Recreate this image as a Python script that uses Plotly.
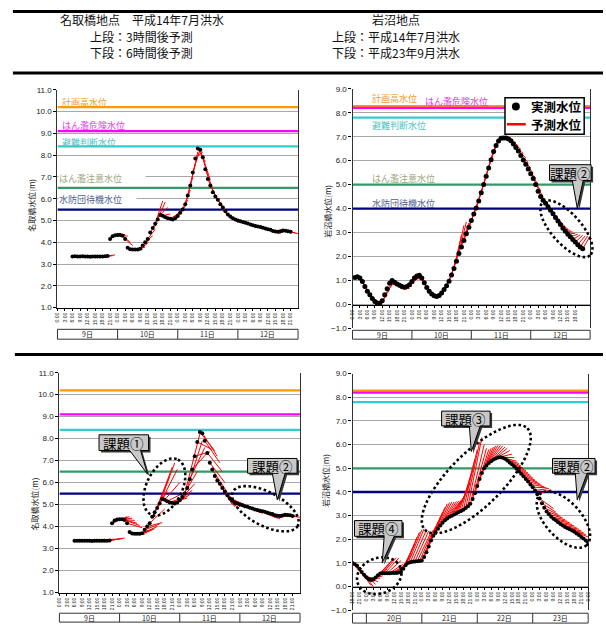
import numpy as np
import plotly.graph_objects as go

W, H = 606, 634

# ---------------- data ----------------
# 名取橋 平成14年7月洪水 : observed level (m), hourly, first value at 9日 6:00 (hour 6)
natori_obs_start = 6
natori_obs = [3.35, 3.36, 3.35, 3.35, 3.36, 3.35, 3.35, 3.34, 3.35, 3.35, 3.35, 3.35, 3.35, 3.36, 3.37,
              4.15, 4.28, 4.32, 4.33, 4.33, 4.30, 4.15, 3.75, 3.68, 3.67, 3.67, 3.67, 3.70, 3.85, 4.00,
              4.15, 4.45, 4.65, 4.85, 5.05, 5.25, 5.22, 5.15, 5.10, 5.08, 5.05, 5.10, 5.20, 5.35, 5.50,
              5.75, 6.15, 6.60, 7.20, 7.85, 8.30, 8.25, 7.90, 7.35, 6.90, 6.60, 6.30, 6.10, 5.95, 5.75,
              5.60, 5.42, 5.28, 5.18, 5.10, 5.05, 5.00, 4.97, 4.93, 4.90, 4.86, 4.82, 4.78, 4.75, 4.72,
              4.70, 4.67, 4.63, 4.60, 4.57, 4.52, 4.49, 4.48, 4.50, 4.54, 4.53, 4.51, 4.48]
# 3-hour-ahead forecasts, listed by target hour (first target = hour 9)
natori_pred3_start = 9
natori_pred3 = [3.37, 3.37, 3.38, 3.37, 3.36, 3.37, 3.37, 3.36, 3.37, 3.37, 3.38, 3.37, 3.37, 3.38,
                3.42, 4.40, 4.42, 4.38, 4.35, 4.28, 4.00, 3.85, 3.62, 3.62, 3.64, 3.68, 3.78, 3.95,
                4.15, 4.30, 4.60, 4.90, 5.30, 5.90, 5.85, 5.60, 5.30, 5.12, 5.05, 5.30, 5.45, 5.60,
                5.65, 5.95, 6.40, 7.00, 7.60, 8.15, 8.30, 8.15, 7.70, 7.05, 6.85, 6.45, 6.15, 5.95,
                5.82, 5.62, 5.45, 5.20, 5.08, 5.02, 4.98, 4.92, 4.90, 4.88, 4.85, 4.82, 4.78, 4.72,
                4.68, 4.68, 4.67, 4.63, 4.60, 4.55, 4.52, 4.50, 4.45, 4.42, 4.40, 4.45, 4.50, 4.52,
                4.50, 4.45, 4.42, 4.40]
# 6-hour-ahead forecasts, by target hour (first target = hour 12)
natori_pred6_start = 12
natori_pred6 = [3.40, 3.41, 3.40, 3.42, 3.41, 3.40, 3.42, 3.41, 3.40, 3.42, 3.43, 3.42, 3.44, 3.45,
                3.48, 4.45, 4.45, 4.38, 4.28, 4.15, 4.05, 3.95, 3.65, 3.72, 3.78, 3.85, 3.90, 4.00,
                4.12, 4.18, 4.80, 5.60, 6.30, 6.70, 6.90, 6.60, 6.00, 5.50, 5.35, 5.30, 5.45, 5.65,
                5.95, 6.50, 8.20, 7.90, 7.60, 7.35, 7.40, 7.50, 7.45, 7.20, 6.90, 6.50, 6.00, 5.55,
                5.20, 5.00, 4.90, 4.85, 4.90, 4.95, 5.00, 4.95, 4.85, 4.80, 4.75, 4.72, 4.65, 4.60,
                4.65, 4.60, 4.55, 4.50, 4.42, 4.38, 4.35, 4.40, 4.45, 4.48, 4.50, 4.52, 4.50, 4.45,
                4.42]

# 岩沼 平成14年7月洪水 : observed, hourly from hour 1
iwa02_obs_start = 1
iwa02_obs = [1.12, 1.15, 1.10, 0.95, 0.75, 0.55, 0.40, 0.25, 0.12, 0.05, 0.05, 0.15, 0.40, 0.65, 0.88,
             1.00, 0.92, 0.85, 0.80, 0.75, 0.72, 0.75, 0.82, 0.95, 1.10, 1.18, 1.22, 1.10, 0.90, 0.70,
             0.55, 0.43, 0.36, 0.33, 0.37, 0.48, 0.62, 0.78, 0.97, 1.23, 1.50, 1.80, 2.12, 2.40, 2.67,
             2.95, 3.22, 3.50, 3.77, 4.02, 4.32, 4.66, 5.00, 5.35, 5.69, 6.04, 6.38, 6.63, 6.82, 6.93,
             6.95, 6.95, 6.90, 6.83, 6.70, 6.55, 6.40, 6.22, 6.03, 5.85, 5.65, 5.45, 5.25, 5.00, 4.72,
             4.50, 4.35, 4.22, 4.08, 3.93, 3.78, 3.63, 3.48, 3.33, 3.18, 3.05, 2.93, 2.82, 2.71, 2.60,
             2.49, 2.40, 2.32]
iwa02_pred3_start = 4
iwa02_pred3 = [1.02, 0.82, 0.60, 0.42, 0.28, 0.17, 0.12, 0.10, 0.10, 0.18, 0.38, 0.62, 0.80, 0.90,
               0.80, 0.70, 0.64, 0.62, 0.62, 0.66, 0.76, 0.90, 1.05, 1.10, 1.05, 0.90, 0.72, 0.54,
               0.42, 0.34, 0.32, 0.36, 0.47, 0.60, 0.76, 0.96, 1.20, 1.50, 1.85, 2.30, 2.90, 3.30,
               3.45, 3.40, 3.50, 3.80, 4.05, 4.35, 4.70, 5.05, 5.40, 5.75, 6.10, 6.45, 6.70, 6.90,
               7.00, 7.02, 7.02, 7.00, 6.95, 6.85, 6.75, 6.62, 6.48, 6.30, 6.12, 5.92, 5.70, 5.48,
               5.25, 5.00, 4.75, 4.50, 4.30, 4.15, 4.00, 3.85, 3.70, 3.58, 3.45, 3.35, 3.25, 3.15,
               3.08, 3.02, 2.97, 2.93, 2.90, 2.88, 2.86, 2.85, 2.85]

# 岩沼 平成23年9月洪水 : observed, hourly from 19日 18:00 (hour -6 relative to 20日 0:00)
iwa11_obs_start = -6
iwa11_obs = [1.00, 0.95, 0.88, 0.75, 0.62, 0.50, 0.40, 0.32, 0.28, 0.30, 0.38, 0.48, 0.55, 0.57, 0.57,
             0.57, 0.57, 0.58, 0.58, 0.58, 0.60, 0.62, 0.75, 0.90, 1.00, 1.03, 1.05, 1.06, 1.07, 1.08,
             1.10, 1.25, 1.45, 1.70, 1.95, 2.15, 2.30, 2.45, 2.58, 2.70, 2.80, 2.88, 2.95, 3.00, 3.05,
             3.10, 3.15, 3.20, 3.25, 3.32, 3.40, 3.50, 3.70, 3.95, 4.25, 4.55, 4.80, 5.00, 5.12, 5.22,
             5.30, 5.37, 5.42, 5.46, 5.47, 5.45, 5.40, 5.33, 5.25, 5.17, 5.08, 4.98, 4.88, 4.77, 4.66,
             4.55, 4.44, 4.32, 4.20, 4.06, 3.90, 3.72, 3.52, 3.33, 3.18, 3.06, 2.95, 2.87, 2.80, 2.72,
             2.65, 2.58, 2.52, 2.47, 2.42, 2.37, 2.32, 2.25, 2.18, 2.10, 2.03, 1.95, 1.88]
iwa11_pred6_start = 0
iwa11_pred6 = [0.30, 0.20, 0.05, 0.00, 0.10, 0.20, 0.35, 0.45, 0.60, 0.75, 0.95, 1.10, 1.20, 1.22,
               1.20, 1.10, 0.95, 0.90, 1.00, 1.10, 1.40, 1.80, 2.10, 2.30, 2.40, 2.45, 2.40, 2.35,
               2.30, 2.40, 2.55, 2.75, 2.95, 3.15, 3.35, 3.50, 3.55, 3.58, 3.58, 3.60, 3.62, 3.65,
               3.75, 3.90, 4.10, 4.40, 4.90, 5.40, 5.80, 6.10, 6.30, 6.00, 5.85, 5.80, 5.85, 5.90,
               5.95, 5.97, 5.97, 5.95, 5.90, 5.85, 5.75, 5.60, 5.45, 5.30, 5.20, 5.10, 5.00, 4.90,
               4.80, 4.70, 4.60, 4.50, 4.42, 4.35, 4.28, 4.22, 4.18, 4.15, 4.10, 3.30, 3.15, 3.05,
               2.97, 2.90, 2.83, 2.76, 2.70, 2.63, 2.57, 2.50, 2.43, 2.36, 2.28, 2.20, 2.10]

level_names = ["計画高水位", "はん濫危険水位", "避難判断水位", "はん濫注意水位", "水防団待機水位"]
natori_levels = [10.2, 9.1, 8.4, 6.5, 5.5]
iwanuma_levels = [8.28, 8.2, 7.8, 5.0, 4.0]
level_colors = ["#FF9900", "#FF00FF", "#33CCCC", "#339966", "#000080"]
label_colors = ["#F39A2E", "#E636E6", "#4BBFBF", "#9DA67C", "#505E8E"]

days_2002 = ["9日", "10日", "11日", "12日"]
days_2011 = ["", "20日", "21日", "22日", "23日"]
hour_labels = ["0:00", "3:00", "6:00", "9:00", "12:00", "15:00", "18:00", "21:00"]

header_left = ["名取橋地点　平成14年7月洪水", "上段：3時間後予測", "下段：6時間後予測"]
header_right = ["岩沼地点", "上段：平成14年7月洪水", "下段：平成23年9月洪水"]
legend_names = ["実測水位", "予測水位"]

CJK = "Noto Sans CJK JP"
LAT = "Liberation Sans, Arial, sans-serif"


def PX(x):
    return x / W


def PY(y):
    return 1 - y / H


panels = [
    dict(k="", px=(55, 298), py=(87, 308), yr=[1, 11], xr=[0, 96], axis_py=None, box=(330, 340),
         days=days_2002, edges=[0, 24, 48, 72, 96], ticks=range(0, 94, 3),
         obs=(natori_obs_start, natori_obs), pred=(natori_pred3_start, natori_pred3, 3),
         levels=natori_levels, title="名取橋水位(m)", tpos=(28, 204), msize=4,
         labels=[(59, 100, None), (59, 123, None), (59, 140, None), (56, 177, 86), (56, 198, 77)]),
    dict(k="2", px=(353, 593), py=(86, 329), yr=[-1, 9], xr=[0, 96], axis_py=305, box=(331, 340),
         days=days_2002, edges=[0, 24, 48, 72, 96], ticks=range(0, 91, 3),
         obs=(iwa02_obs_start, iwa02_obs), pred=(iwa02_pred3_start, iwa02_pred3, 3),
         levels=iwanuma_levels, title="岩沼橋水位(m)", tpos=(327, 210), msize=5,
         labels=[(372, 96, None), (425, 99, None), (372, 123, None), (372, 177, None), (372, 202, None)]),
    dict(k="3", px=(57, 300), py=(374, 597), yr=[1, 11], xr=[0, 96], axis_py=None, box=(618, 627),
         days=days_2002, edges=[0, 24, 48, 72, 96], ticks=range(0, 94, 3),
         obs=(natori_obs_start, natori_obs), pred=(natori_pred6_start, natori_pred6, 6),
         levels=natori_levels, title="名取橋水位(m)", tpos=(32, 507), msize=4, labels=[]),
    dict(k="4", px=(353, 591), py=(375, 615), yr=[-1, 9], xr=[-6, 96], axis_py=591, box=(618, 628),
         days=days_2011, edges=[-6, 0, 24, 48, 72, 96], ticks=range(-6, 97, 3),
         obs=(iwa11_obs_start, iwa11_obs), pred=(iwa11_pred6_start, iwa11_pred6, 6),
         levels=iwanuma_levels, title="岩沼橋水位(m)", tpos=(325, 483), msize=4, labels=[]),
]

fig = go.Figure()
shapes = []
annos = []
layout_axes = {}


def txt_anno(x, y, text, size, color, family=CJK, xanchor="center", **kw):
    d = dict(x=x, y=y, xref="paper", yref="paper", text=text, showarrow=False,
             xanchor=xanchor, yanchor="middle", font=dict(size=size, family=family, color=color))
    d.update(kw)
    return d


for p in panels:
    xa, ya = "x" + p["k"], "y" + p["k"]
    # threshold lines
    for v, c in zip(p["levels"], level_colors):
        fig.add_trace(go.Scatter(x=p["xr"], y=[v, v], mode="lines", line=dict(color=c, width=2.3),
                                 xaxis=xa, yaxis=ya, hoverinfo="skip", showlegend=False))
    # forecasts: segment from observed value at issue time to forecast value at target time
    o0, obs = p["obs"]
    s0, pv, lead = p["pred"]
    obs_map = {o0 + i: v for i, v in enumerate(obs)}
    sx, sy = [], []
    for i, v in enumerate(pv):
        t_target = s0 + i
        t_issue = t_target - lead
        if t_issue in obs_map:
            sx += [t_issue, t_target, None]
            sy += [obs_map[t_issue], v, None]
    fig.add_trace(go.Scatter(x=sx, y=sy, mode="lines", line=dict(color="#FF0000", width=1.0),
                             xaxis=xa, yaxis=ya, name=legend_names[1], showlegend=False,
                             connectgaps=False))
    fig.add_trace(go.Scatter(x=list(range(o0, o0 + len(obs))), y=obs, mode="markers",
                             marker=dict(color="black", size=p["msize"], line=dict(width=0)),
                             xaxis=xa, yaxis=ya, name=legend_names[0], showlegend=False))

    xd = [PX(p["px"][0]), PX(p["px"][1])]
    yd = [PY(p["py"][1]), PY(p["py"][0])]
    tv = list(p["ticks"])
    tt = [hour_labels[(h % 24) // 3] for h in tv]
    xaxis = dict(domain=xd, range=p["xr"], showgrid=False, zeroline=False, showline=True,
                 linecolor="black", linewidth=1.2, ticks="outside", ticklen=2, tickcolor="black",
                 tickvals=tv, ticktext=tt, tickangle=-90,
                 tickfont=dict(size=5, family=LAT, color="#222"), anchor=ya)
    if p["axis_py"] is not None:
        xaxis.update(anchor="free", position=PY(p["axis_py"]))
    yaxis = dict(domain=yd, range=p["yr"], dtick=1, tickformat=".1f", showgrid=True,
                 gridcolor="#A8A8A8", gridwidth=1, zeroline=False, showline=True, mirror=True,
                 linecolor="#333", linewidth=1.2, ticks="outside", ticklen=3, tickcolor="black",
                 tickfont=dict(size=8, family=LAT, color="#222"), anchor=xa)
    layout_axes["xaxis" + p["k"]] = xaxis
    layout_axes["yaxis" + p["k"]] = yaxis

    # day box below the axis
    b0, b1 = p["box"]
    shapes.append(dict(type="rect", xref="paper", yref="paper", x0=xd[0], x1=xd[1],
                       y0=PY(b1), y1=PY(b0), line=dict(color="#333", width=1), fillcolor="rgba(0,0,0,0)"))
    for e in p["edges"][1:-1]:
        shapes.append(dict(type="line", xref=xa, yref="paper", x0=e, x1=e, y0=PY(b1), y1=PY(b0),
                           line=dict(color="#333", width=1)))
    for i, d in enumerate(p["days"]):
        if d:
            annos.append(dict(x=(p["edges"][i] + p["edges"][i + 1]) / 2, y=PY((b0 + b1) / 2),
                              xref=xa, yref="paper", text=d, showarrow=False,
                              xanchor="center", yanchor="middle",
                              font=dict(size=7, family=CJK, color="#222")))
    # y-axis title
    annos.append(txt_anno(PX(p["tpos"][0]), PY(p["tpos"][1]), p["title"], 8, "#222", textangle=-90))
    # level labels (two of them sit on a white box that hides the grid line)
    for (lx, ly, wd), name, col in zip(p["labels"], level_names, label_colors):
        a = txt_anno(PX(lx), PY(ly), name, 9, col, xanchor="left", align="left", borderpad=0)
        if wd:
            a["width"] = wd
            a["bgcolor"] = "white"
        annos.append(a)

# header rules and text
for yy, x0 in [(7.5, 10), (70, 10), (355.5, 12)]:
    shapes.append(dict(type="line", xref="paper", yref="paper", x0=PX(x0), x1=1, y0=PY(yy), y1=PY(yy),
                       line=dict(color="black", width=3)))
for txt, yy in zip(header_left, [16, 32.5, 49]):
    annos.append(txt_anno(PX(140), PY(yy), txt, 12, "#111"))
for txt, yy in zip(header_right, [16, 32.5, 49]):
    annos.append(txt_anno(PX(397), PY(yy), txt, 12, "#111"))

# legend (top-right panel)
shapes.append(dict(type="rect", xref="paper", yref="paper", x0=PX(507), x1=PX(587), y0=PY(132), y1=PY(95),
                   line=dict(color="black", width=1.5), fillcolor="white", layer="above"))
shapes.append(dict(type="circle", xref="paper", yref="paper", x0=PX(514), x1=PX(522), y0=PY(108), y1=PY(100),
                   line=dict(width=0), fillcolor="black", layer="above"))
shapes.append(dict(type="line", xref="paper", yref="paper", x0=PX(509), x1=PX(528), y0=PY(122), y1=PY(122),
                   line=dict(color="#FF0000", width=2.5), layer="above"))
for txt, yy in zip(legend_names, [104, 122]):
    annos.append(txt_anno(PX(531), PY(yy), "<b>" + txt + "</b>", 12.5, "black", xanchor="left"))


# callouts and dotted ellipses (annotations)
def path_from(points):
    return "M " + " L ".join(f"{PX(x):.5f},{PY(y):.5f}" for x, y in points) + " Z"


def ellipse_pts(cx, cy, a, b, ang):
    t = np.linspace(0, 2 * np.pi, 90)
    ca, sa = np.cos(np.radians(ang)), np.sin(np.radians(ang))
    xs = cx + a * np.cos(t) * ca - b * np.sin(t) * sa
    ys = cy + a * np.cos(t) * sa + b * np.sin(t) * ca
    return list(zip(xs, ys))


ellipses = [(569, 228, 36, 15, 48.6), (163, 490, 31, 18, -64), (265, 512, 37, 17, 28),
            (478, 482, 73, 27, -45), (566, 523, 35, 18, 48), (380, 580, 23, 18, -20)]
for e in ellipses:
    shapes.append(dict(type="path", xref="paper", yref="paper", path=path_from(ellipse_pts(*e)),
                       line=dict(color="black", width=2.6, dash="2.6px,2.6px"), layer="above"))

callouts = [("課題②", (552, 163, 594, 179), (575, 586), (580, 207)),
            ("課題①", (97, 437, 147, 453), (128, 139), (146, 477)),
            ("課題②", (247, 461, 297, 476), (272, 285), (277, 503)),
            ("課題③", (443, 413, 492, 428), (471, 482), (473, 454)),
            ("課題②", (555, 461, 598, 476), (578, 590), (580, 503)),
            ("課題④", (355, 524, 403, 540), (385, 395), (383, 567))]
for txt, (x0, y0, x1, y1), (c1, c2), (tx, ty) in callouts:
    pts = [(x0, y0), (x1, y0), (x1, y1), (c2, y1), (tx, ty), (c1, y1), (x0, y1)]
    shapes.append(dict(type="path", xref="paper", yref="paper",
                       path=path_from([(x + 2, y + 2) for x, y in pts]),
                       line=dict(width=0), fillcolor="#3a3a3a", layer="above"))
    shapes.append(dict(type="path", xref="paper", yref="paper", path=path_from(pts),
                       line=dict(color="black", width=1), fillcolor="#C8C8C8", layer="above"))
    annos.append(txt_anno(PX((x0 + x1) / 2), PY((y0 + y1) / 2), txt, 13.5, "black"))

fig.update_layout(width=W, height=H, margin=dict(l=0, r=0, t=0, b=0), autosize=False,
                  paper_bgcolor="white", plot_bgcolor="white", showlegend=False,
                  shapes=shapes, annotations=annos, **layout_axes)
fig.write_html("out.html")
